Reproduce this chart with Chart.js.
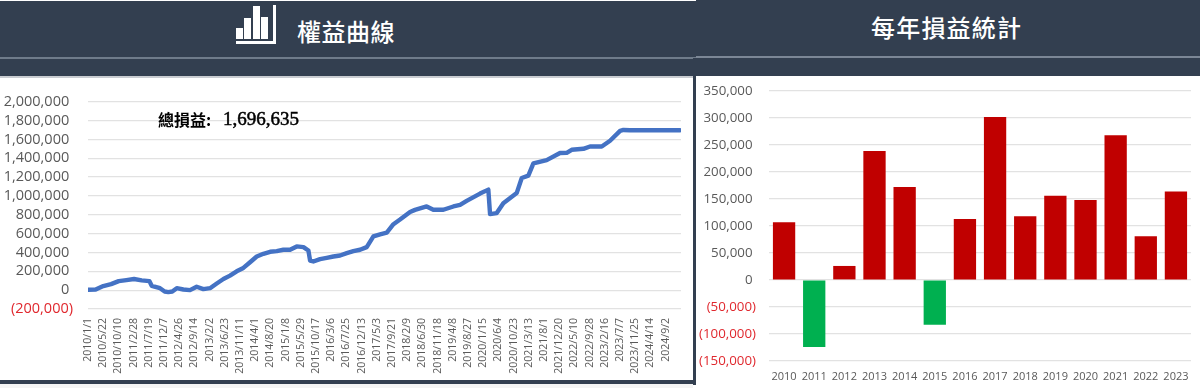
<!DOCTYPE html>
<html><head><meta charset="utf-8">
<style>
html,body{margin:0;padding:0;background:#fff;width:1200px;height:388px;overflow:hidden}
div,canvas,svg{position:absolute}
.t{color:#fff;font-family:"Noto Sans CJK TC";font-weight:500;white-space:nowrap;line-height:1}
</style>
<script src="https://cdn.jsdelivr.net/npm/chart.js@4"></script>
</head><body>
<div style="left:0;top:1px;width:696px;height:75px;background:#333f50"></div>
<div style="left:696px;top:0;width:504px;height:76px;background:#333f50"></div>
<div style="left:0;top:57px;width:696px;height:2px;background:#6f7b8a"></div>
<div style="left:696px;top:56px;width:504px;height:2px;background:#7c8796"></div>
<div style="left:0;top:76px;width:693px;height:2px;background:#c9ccd1"></div>
<svg style="left:234px;top:3px" width="44" height="44" viewBox="0 0 44 44" fill="#fff">
<rect x="2" y="25" width="7" height="11"/><rect x="10" y="15" width="7" height="21"/><rect x="19" y="3" width="7" height="33"/><rect x="27" y="14" width="7" height="22"/>
<rect x="2" y="38" width="40" height="3"/><rect x="39" y="2" width="3" height="39"/>
</svg>
<div class="t" style="left:297px;top:19px;font-size:24px;letter-spacing:.5px">權益曲線</div>
<div class="t" style="left:871px;top:15px;font-size:24px;letter-spacing:1.2px">每年損益統計</div>
<canvas id="eq" width="692" height="301" style="left:0;top:78px"></canvas>
<canvas id="yr" width="504" height="318" style="left:696px;top:70px"></canvas>
<div style="left:693px;top:58px;width:3px;height:327px;background:#333f50"></div>
<div style="left:0;top:380px;width:696px;height:4px;background:#333f50"></div>
<div style="left:0;top:384px;width:693px;height:4px;background:#f4f4f4"></div>
<div style="left:158px;top:108px;color:#000;font-weight:700;white-space:nowrap;line-height:22px;font-size:16px;font-family:'Noto Sans CJK TC'">總損益:</div>
<div style="left:223px;top:108px;color:#000;white-space:nowrap;line-height:22px;font-size:19px;font-family:'Liberation Serif';-webkit-text-stroke:.5px #000">1,696,635</div>
<script>
const tickLabels=["2010/1/1","2010/5/22","2010/10/10","2011/2/28","2011/7/19","2011/12/7","2012/4/26","2012/9/14","2013/2/2","2013/6/23","2013/11/11","2014/4/1","2014/8/20","2015/1/8","2015/5/29","2015/10/17","2016/3/6","2016/7/25","2016/12/13","2017/5/3","2017/9/21","2018/2/9","2018/6/30","2018/11/18","2019/4/8","2019/8/27","2020/1/15","2020/6/4","2020/10/23","2021/3/13","2021/8/1","2021/12/20","2022/5/10","2022/9/28","2023/2/16","2023/7/7","2023/11/25","2024/4/14","2024/9/2"];
const tickDays=141;
const equityDays=[0,71,142,214,285,356,427,498,569,591,668,711,745,782,823,885,946,1008,1070,1132,1194,1256,1317,1379,1441,1503,1565,1627,1689,1750,1812,1874,1936,1998,2044,2060,2090,2152,2214,2276,2338,2400,2461,2523,2585,2647,2709,2771,2833,2894,2987,3033,3141,3203,3296,3389,3451,3512,3636,3713,3729,3791,3852,3976,4023,4084,4131,4254,4378,4440,4486,4595,4656,4765,4842,4935,4966,5027,5491];
const equityValues=[5000,7000,43000,64000,96000,107000,118000,104000,96000,46000,21000,-14000,-21000,-14000,21000,7000,0,36000,11000,21000,71000,118000,154000,200000,236000,296000,357000,386000,407000,414000,429000,429000,464000,457000,421000,314000,304000,329000,343000,357000,368000,393000,414000,429000,457000,571000,593000,611000,700000,750000,830000,852000,888000,853000,853000,888000,905000,947000,1025000,1067000,807000,818000,923000,1030000,1190000,1215000,1345000,1380000,1455000,1458000,1490000,1500000,1525000,1525000,1586000,1690000,1700000,1696635,1696635];
const years=["2010","2011","2012","2013","2014","2015","2016","2017","2018","2019","2020","2021","2022","2023"];
const yearPnL=[107000,-124000,26000,239000,172000,-83000,113000,302000,118000,156000,148000,268000,81000,164000];
const lineColor="#4472c4",gainColor="#c00000",lossColor="#00b050",gridColor="#e2e2e2",textColor="#595959",negColor="#e0282e";
const fmt=v=>v<0?"("+Math.abs(v).toLocaleString("en-US")+")":v.toLocaleString("en-US")+"\u00a0";
const negTick=c=>c.tick.value<0?negColor:textColor;
const uiFont='"Open Sans"';
Chart.defaults.animation=false;Chart.defaults.responsive=false;
new Chart(document.getElementById("eq"),{type:"line",
 data:{datasets:[{data:equityDays.map((d,i)=>({x:d,y:equityValues[i]})),borderColor:lineColor,borderWidth:4.4,pointRadius:0,tension:0,borderJoinStyle:"round",borderCapStyle:"round"}]},
 options:{plugins:{legend:{display:false},tooltip:{enabled:false}},layout:{padding:{top:23,right:11,left:0,bottom:0}},
  scales:{
   x:{type:"linear",min:0,max:5500,afterFit:s=>{s.height=70},afterBuildTicks:s=>{s.ticks=tickLabels.map((_,i)=>({value:i*tickDays}))},
      grid:{display:false},border:{display:false},
      ticks:{autoSkip:false,maxRotation:90,minRotation:90,padding:1,color:textColor,font:{family:uiFont,size:10.5},callback:v=>tickLabels[Math.round(v/tickDays)]??""}},
   y:{min:-200000,max:2000000,afterFit:s=>{s.width=88},grid:{color:gridColor,lineWidth:1.2,drawTicks:false},border:{display:false},
      ticks:{autoSkip:false,stepSize:200000,padding:15,color:negTick,font:{family:uiFont,size:14.5},callback:fmt}}
  }}});
new Chart(document.getElementById("yr"),{type:"bar",
 data:{labels:years,datasets:[{data:yearPnL,backgroundColor:yearPnL.map(v=>v<0?lossColor:gainColor),barPercentage:.74,categoryPercentage:1}]},
 options:{plugins:{legend:{display:false},tooltip:{enabled:false}},layout:{padding:{top:5,right:9,left:0,bottom:0}},
  scales:{
   x:{position:"bottom",grid:{display:false},border:{display:false},afterFit:s=>{s.height=27},
      ticks:{padding:1,autoSkip:false,maxRotation:0,color:textColor,font:{family:uiFont,size:11}}},
   y:{min:-150000,max:350000,afterFit:s=>{s.width=73},grid:{color:gridColor,lineWidth:1.2,drawTicks:false},border:{display:false},
      ticks:{autoSkip:false,stepSize:50000,padding:13,color:negTick,font:{family:uiFont,size:13.3},callback:fmt}}
  }}});
</script>
</body></html>
